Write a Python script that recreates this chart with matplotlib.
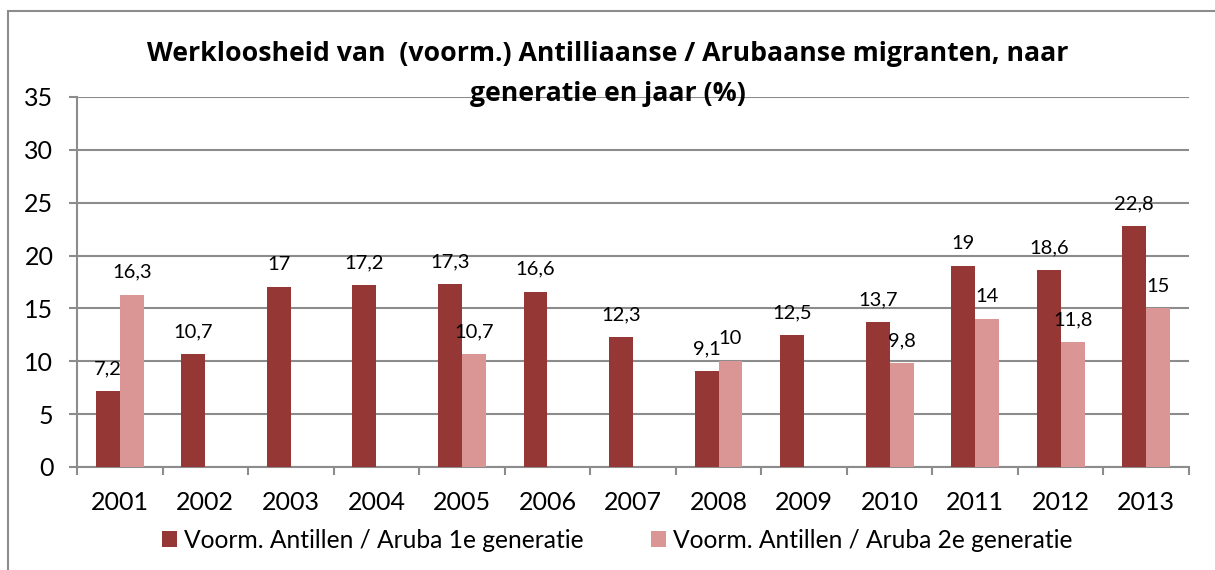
import numpy as np
import matplotlib
matplotlib.use('Agg')
import matplotlib.pyplot as plt
from matplotlib.patches import Rectangle
from matplotlib.ticker import MultipleLocator, FixedLocator

plt.rcParams['font.family'] = ['Lato', 'DejaVu Sans']

# data
years = ['2001', '2002', '2003', '2004', '2005', '2006', '2007',
         '2008', '2009', '2010', '2011', '2012', '2013']
gen1 = [7.2, 10.7, 17, 17.2, 17.3, 16.6, 12.3, 9.1, 12.5, 13.7, 19, 18.6, 22.8]
gen2 = [16.3, None, None, None, 10.7, None, None, 10, None, 9.8, 14, 11.8, 15]
series_names = ['Voorm. Antillen / Aruba 1e generatie',
                'Voorm. Antillen / Aruba 2e generatie']
title = 'Werkloosheid van  (voorm.) Antilliaanse / Arubaanse migranten, naar\ngeneratie en jaar (%)'

c1 = '#953735'
c2 = '#D99694'
grid_c = '#8C8C8C'

fig = plt.figure(figsize=(12.15, 5.70), dpi=100)
ax = fig.add_axes([77 / 1215, 1 - 467 / 570, (1189 - 77) / 1215, (467 - 97) / 570])

x = np.arange(len(years))
w = 0.28
v2 = np.array([np.nan if v is None else v for v in gen2])
b1 = ax.bar(x - w / 2, gen1, w, color=c1, label=series_names[0], zorder=3)
b2 = ax.bar(x + w / 2, np.nan_to_num(v2), w, color=c2, label=series_names[1], zorder=3)


def fmt(v):
    return ('%g' % v).replace('.', ',')


# data labels above the bars
for xi, v in zip(x, gen1):
    ax.annotate(fmt(v), (xi - w / 2, v), xytext=(0, 10), textcoords='offset points',
                ha='center', va='bottom', fontsize=14.5, zorder=5)
for xi, v in zip(x, v2):
    if not np.isnan(v):
        ax.annotate(fmt(v), (xi + w / 2, v), xytext=(0, 10), textcoords='offset points',
                    ha='center', va='bottom', fontsize=14.5, zorder=5)

ax.set_xlim(-0.5, len(years) - 0.5)
ax.set_ylim(0, 35)
ax.yaxis.set_major_locator(MultipleLocator(5))
ax.grid(axis='y', color=grid_c, linewidth=1.5, zorder=0)

ax.set_xticks(x)
ax.set_xticklabels(years)
ax.xaxis.set_minor_locator(FixedLocator(np.arange(-0.5, len(years), 1.0)))
ax.tick_params(axis='x', which='major', length=0, pad=17, labelsize=18)
ax.tick_params(axis='x', which='minor', length=6, color=grid_c, width=1.5)
ax.tick_params(axis='y', length=6, color=grid_c, width=1.5, labelsize=18, pad=11)

for s in ['top', 'right']:
    ax.spines[s].set_visible(False)
for s in ['left', 'bottom']:
    ax.spines[s].set_color(grid_c)
    ax.spines[s].set_linewidth(1.5)

fig.text(0.5, 1 - 74 / 570, title, ha='center', va='center', fontsize=19.2,
         fontweight='bold', linespacing=1.7, family=['Open Sans', 'DejaVu Sans'])

fig.legend(handles=[b1, b2], loc='center', bbox_to_anchor=(617 / 1215, 1 - 540 / 570),
           ncol=2, frameon=False, fontsize=17.7, handlelength=0.61, handleheight=0.61,
           handletextpad=0.28, columnspacing=2.76)

# outer chart border
fig.patches.append(Rectangle((8 / 1215, -0.1), 1.2, 1 - 11 / 570 + 0.1,
                             transform=fig.transFigure, fill=False,
                             edgecolor=grid_c, linewidth=1.5))

fig.savefig('out.png', dpi=100)
